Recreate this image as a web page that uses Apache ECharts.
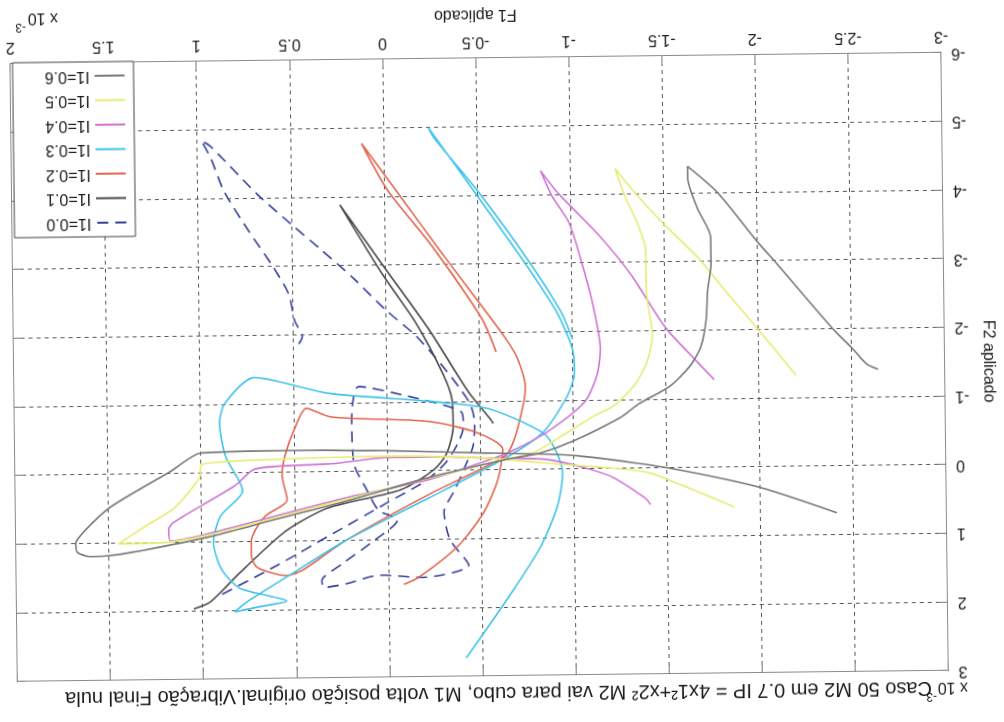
<!DOCTYPE html>
<html>
<head>
<meta charset="utf-8">
<script src="https://cdn.jsdelivr.net/npm/echarts@6/dist/echarts.min.js"></script>
<style>
html,body{margin:0;padding:0;background:#fff;overflow:hidden;}
#wrap{width:1004px;height:722px;transform:rotate(179.32deg);transform-origin:50% 50%;}
#chart{width:1004px;height:722px;}
</style>
</head>
<body>
<div id="wrap"><div id="chart"></div></div>
<script>
// values in units of 1e-3 : [F1 aplicado, F2 aplicado]
const seriesNames = ['I1=0.0','I1=0.1','I1=0.2','I1=0.3','I1=0.4','I1=0.5','I1=0.6'];
const seriesColors = ['#34409a','#4a4a4a','#e2664e','#3ec3ea','#cf74d4','#e6ec72','#7a7a7a'];

const I1_00 = [[0.47,-1.87],[0.45,-1.97],[0.49,-2.21],[0.52,-2.60],[0.61,-3.03],[0.73,-3.52],[0.86,-4.10],[0.93,-4.59],[0.98,-4.85],[0.93,-4.76],[0.68,-4.05],[0.50,-3.61],[0.34,-3.23],[0.18,-2.84],[0.0,-2.35],[-0.16,-1.97],[-0.30,-1.53],[-0.40,-1.17],[-0.45,-0.95],[-0.47,-0.70],[-0.46,-0.35],[-0.41,-0.02],[-0.36,0.28],[-0.30,0.60],[-0.33,1.0],[-0.43,1.38],[-0.18,1.55],[0.05,1.51],[0.23,1.63],[0.35,1.68],[0.36,1.58],[0.25,1.34],[0.09,1.03],[-0.05,0.71],[0.05,0.57],[0.12,0.23],[0.18,-0.11],[0.19,-0.73],[0.15,-1.24],[-0.1,-1.1],[-0.4,-0.85],[-0.41,-0.65],[-0.38,-0.40],[-0.31,-0.11],[-0.2,0.15],[0.0,0.45],[0.3,0.9],[0.6,1.35],[0.91,1.78]];
const I1_01 = [[-0.57,-0.68],[-0.556,-0.74],[-0.44,-1.14],[-0.23,-2.06],[0.02,-3.03],[0.24,-3.89],[0.02,-2.89],[-0.16,-2.16],[-0.30,-1.43],[-0.35,-1.04],[-0.355,-0.65],[-0.32,-0.26],[-0.25,-0.02],[-0.07,0.27],[0.32,0.52],[0.55,0.85],[0.8,1.45],[0.96,1.87],[1.05,1.97]];
const I1_02 = [[-0.59,-1.72],[-0.515,-2.21],[-0.25,-3.28],[-0.016,-4.10],[0.12,-4.78],[-0.06,-4.10],[-0.31,-3.15],[-0.61,-2.04],[-0.70,-1.65],[-0.745,-1.21],[-0.73,-0.92],[-0.68,-0.43],[-0.63,-0.20],[-0.23,0.33],[0.23,1.0],[0.46,1.42],[0.55,1.50],[0.64,1.45],[0.71,1.37],[0.737,1.2],[0.737,1.0],[0.71,0.81],[0.656,0.62],[0.541,0.40],[0.567,0.04],[0.55,-0.25],[0.497,-0.64],[0.434,-0.93],[0.3,-0.80],[-0.22,-0.72],[-0.48,-0.55],[-0.62,-0.30],[-0.59,0.15],[-0.51,0.63],[-0.37,1.11],[-0.16,1.55],[-0.08,1.65]];
const I1_03 = [[-0.41,2.73],[-0.52,2.32],[-0.67,1.74],[-0.82,1.11],[-0.91,0.53],[-0.94,0.05],[-0.91,-0.24],[-0.84,-0.53],[-0.54,-0.90],[-0.2,-1.02],[0.32,-1.15],[0.71,-1.39],[0.87,-1.02],[0.90,-0.73],[0.87,-0.25],[0.78,0.26],[0.90,0.62],[0.94,1.0],[0.90,1.39],[0.80,1.68],[0.55,1.87],[0.70,1.95],[0.83,2.02],[0.76,1.87],[0.50,1.44],[0.23,1.0],[-0.23,0.38],[-0.65,-0.20],[-0.84,-0.55],[-0.97,-1.07],[-1.01,-1.41],[-1.0,-1.75],[-0.92,-2.28],[-0.75,-3.01],[-0.49,-4.03],[-0.24,-5.0],[-0.27,-4.85],[-0.52,-4.0],[-0.78,-3.0],[-0.94,-2.3],[-1.0,-1.9]];
const I1_04 = [[-1.76,-1.28],[-1.66,-1.57],[-1.50,-2.05],[-1.32,-2.82],[-1.15,-3.40],[-0.93,-4.03],[-0.84,-4.35],[-0.90,-3.98],[-0.99,-3.59],[-1.06,-2.96],[-1.11,-2.43],[-1.15,-1.75],[-1.13,-1.36],[-1.06,-0.97],[-0.85,-0.53],[-0.68,-0.29],[-0.6,-0.2],[-0.23,0.12],[0.23,0.38],[0.59,0.62],[0.94,0.86],[1.17,0.98],[1.18,0.81],[1.15,0.7],[0.82,0.18],[0.71,-0.06],[0.3,-0.12],[0,-0.2],[-0.3,-0.2],[-0.6,-0.17],[-0.87,-0.14],[-1.19,0.10],[-1.38,0.43],[-1.41,0.53]];
const I1_05 = [[-2.20,-1.33],[-2.00,-2.00],[-1.84,-2.52],[-1.68,-3.06],[-1.50,-3.55],[-1.35,-4.0],[-1.24,-4.37],[-1.29,-3.98],[-1.36,-3.55],[-1.40,-3.16],[-1.40,-2.62],[-1.43,-1.94],[-1.40,-1.55],[-1.33,-1.21],[-1.22,-0.92],[-1.11,-0.77],[-0.91,-0.44],[-0.78,-0.24],[-0.62,-0.15],[-0.2,0.12],[0.3,0.45],[0.7,0.72],[0.94,0.88],[1.2,1.0],[1.45,1.01],[1.3,0.75],[1.15,0.5],[1.01,0.06],[1.0,-0.13],[0.5,-0.2],[0,-0.22],[-0.5,-0.18],[-0.9,-0.08],[-1.38,0.05],[-1.62,0.3],[-1.86,0.58]];
const I1_06 = [[-2.64,-1.40],[-2.58,-1.48],[-2.50,-1.72],[-2.40,-2.00],[-2.09,-3.00],[-2.00,-3.28],[-1.79,-4.00],[-1.63,-4.39],[-1.63,-4.22],[-1.68,-3.78],[-1.75,-3.35],[-1.75,-2.97],[-1.73,-2.58],[-1.72,-2.15],[-1.69,-1.76],[-1.63,-1.48],[-1.52,-1.19],[-1.36,-0.95],[-1.25,-0.74],[-1.00,-0.41],[-0.82,-0.24],[-0.65,-0.16],[-0.23,0.09],[0.23,0.43],[0.59,0.67],[0.94,0.91],[1.26,1.08],[1.47,1.17],[1.60,1.19],[1.67,1.13],[1.68,1.00],[1.63,0.81],[1.49,0.47],[1.17,-0.03],[1.00,-0.30],[0.5,-0.32],[0,-0.30],[-0.53,-0.25],[-1.00,-0.20],[-1.51,0.0],[-1.99,0.29],[-2.41,0.68]];
const seriesData = [I1_00,I1_01,I1_02,I1_03,I1_04,I1_05,I1_06];

const xMin=-3, xMax=2, xStep=0.5;
const yMin=-6, yMax=3, yStep=1;
const titleText = 'Caso 50 M2 em 0.7 IP = 4x1²+x2² M2 vai para cubo, M1 volta posição original.Vibração Final nula';
const xName = 'F1 aplicado', yName = 'F2 aplicado';

const FONT = '"Liberation Sans", Arial, Helvetica, sans-serif';
const chart = echarts.init(document.getElementById('chart'), null, {renderer:'canvas'});

const gridLine = {show:true, lineStyle:{color:'#555', type:[4,4], width:1}};
const axLine = {show:true, onZero:false, lineStyle:{color:'#8a8a8a', width:1}};
const tick = {show:true, inside:true, length:8, lineStyle:{color:'#777'}};
const txt = (t, size) => ({text:t, fill:'#1a1a1a', fontSize:size, fontFamily:FONT});

const option = {
  animation:false,
  backgroundColor:'#fff',
  grid:{left:58, right:14, top:46, bottom:58, containLabel:false},
  xAxis:[
    {type:'value', min:xMin, max:xMax, interval:xStep, position:'bottom',
     axisLine:axLine, axisTick:tick, splitLine:gridLine,
     axisLabel:{color:'#1a1a1a', fontSize:16, fontFamily:FONT, margin:9},
     name:xName, nameLocation:'middle', nameGap:36,
     nameTextStyle:{color:'#1a1a1a', fontSize:16, fontFamily:FONT}},
    {type:'value', min:xMin, max:xMax, interval:xStep, position:'top',
     axisLine:axLine, axisTick:tick, splitLine:{show:false}, axisLabel:{show:false}}
  ],
  yAxis:[
    {type:'value', min:yMin, max:yMax, interval:yStep, position:'left',
     axisLine:axLine, axisTick:tick, splitLine:gridLine,
     axisLabel:{color:'#1a1a1a', fontSize:16, fontFamily:FONT, margin:10},
     name:yName, nameLocation:'middle', nameGap:34, nameRotate:90,
     nameTextStyle:{color:'#1a1a1a', fontSize:16, fontFamily:FONT}},
    {type:'value', min:yMin, max:yMax, interval:yStep, position:'right',
     axisLine:axLine, axisTick:tick, splitLine:{show:false}, axisLabel:{show:false}}
  ],
  legend:{
    data:seriesNames, orient:'vertical', left:867, top:490,
    backgroundColor:'#fff', borderColor:'#444', borderWidth:1,
    padding:[6,32,6,8], itemGap:8.5, itemWidth:30, itemHeight:15,
    itemStyle:{opacity:0},
    textStyle:{color:'#1a1a1a', fontSize:16, fontFamily:FONT}
  },
  graphic:[
    {type:'text', x:76, y:19, style:txt(titleText, 20)},
    {type:'text', x:40, y:22, style:txt('x 10', 16)},
    {type:'text', x:71, y:15, style:txt('-3', 12)},
    {type:'text', x:942, y:702, style:txt('x 10', 16)},
    {type:'text', x:974, y:695, style:txt('-3', 12)}
  ],
  series: seriesNames.map((n,i)=>({
    name:n, type:'line', data:seriesData[i], showSymbol:false, symbol:'none',
    smooth:0.25, clip:true,
    lineStyle:{color:seriesColors[i], width:1.6, type: i===0 ? [11,7] : 'solid'},
    itemStyle:{color:seriesColors[i]}
  }))
};
chart.setOption(option);
</script>
</body>
</html>
